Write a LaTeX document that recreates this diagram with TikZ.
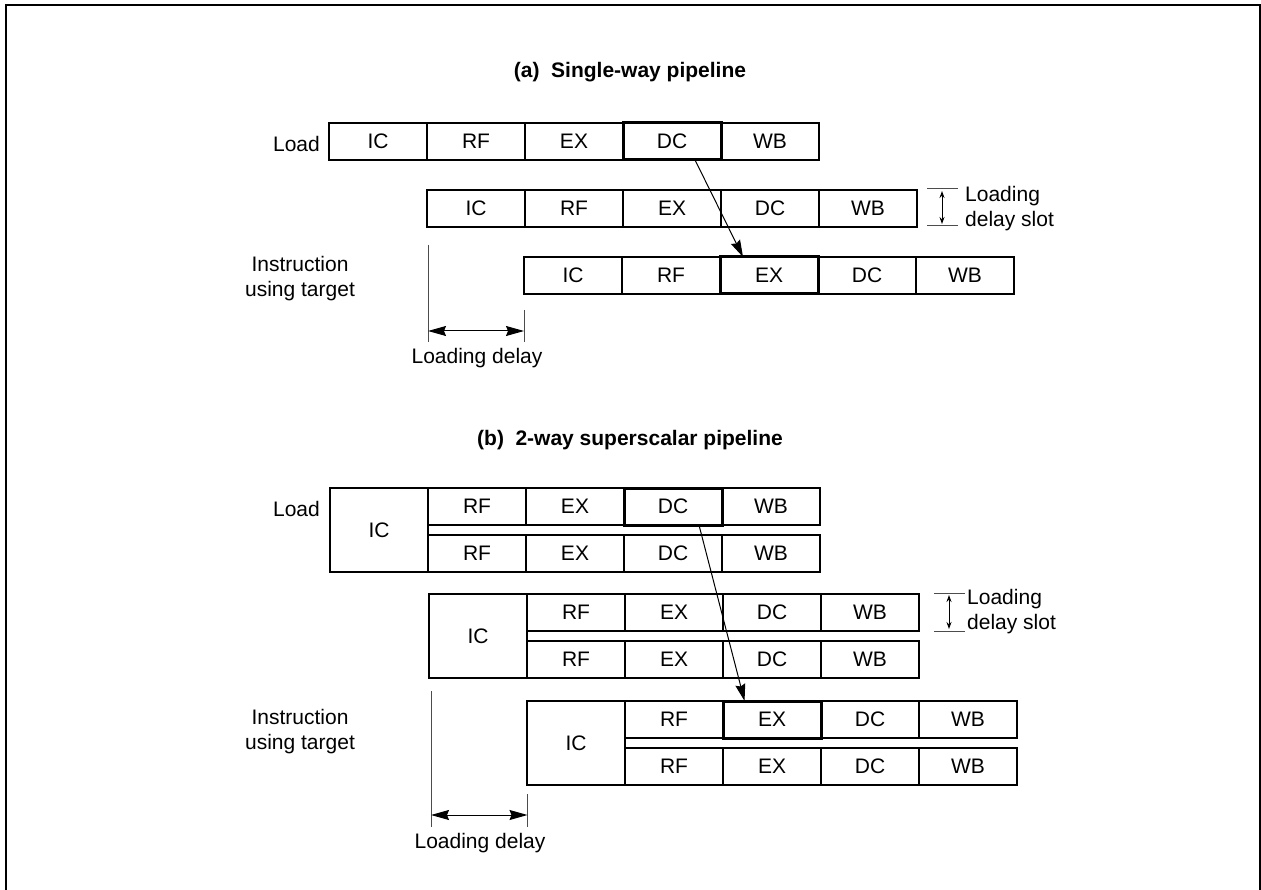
\documentclass[tikz,border=0pt]{standalone}
\usepackage{fontspec}
\setmainfont{Liberation Sans}
\usetikzlibrary{calc,arrows.meta}
\newcommand\lblfont{\fontsize{21}{25}\selectfont}
\newcommand\ttlfont{\fontsize{21}{25}\selectfont\bfseries}
\tikzset{
  cell/.style={draw, line width=1.2pt, minimum width=98pt, minimum height=37pt,
    inner sep=0pt, outer sep=0pt, anchor=north west, font=\lblfont},
  icbox/.style={cell, minimum height=84pt},
  plaincell/.style={},
  boldcell/.style={line width=3pt},
  lbl/.style={font=\lblfont, inner sep=0pt, align=center},
  ttl/.style={font=\ttlfont, inner sep=0pt},
  guide/.style={line width=1pt, black!70},
  bigtip/.style={-{Stealth[length=17pt,width=10pt,inset=2pt]}, line width=1pt},
  bothtip/.style={{Stealth[length=18pt,width=10pt,inset=2pt]}-{Stealth[length=18pt,width=10pt,inset=2pt]}, line width=1pt},
  smalltip/.style={{Stealth[length=7pt,width=5pt]}-{Stealth[length=7pt,width=5pt]}, line width=1pt},
}
\begin{document}
\begin{tikzpicture}[x=1pt,y=-1pt]
\useasboundingbox (0,0) rectangle (1261,890);
\begin{scope}
\clip (0,0) rectangle (1261,890);
\draw[line width=2pt] (5.5,5) rectangle (1259.5,900);
\end{scope}

% ---------- (a) single-way pipeline ----------
\node[ttl] (ttla) at (630,72) {(a)\hspace{0.55em}Single-way pipeline};

\foreach \t/\s [count=\i] in {IC/plaincell,RF/plaincell,EX/plaincell,DC/boldcell,WB/plaincell}
  \node[cell,\s] (a1c\i) at ({329+98*(\i-1)},123) {\t};
\foreach \t [count=\i] in {IC,RF,EX,DC,WB}
  \node[cell] (a2c\i) at ({427+98*(\i-1)},190) {\t};
\foreach \t/\s [count=\i] in {IC/plaincell,RF/plaincell,EX/boldcell,DC/plaincell,WB/plaincell}
  \node[cell,\s] (a3c\i) at ({524+98*(\i-1)},257) {\t};

\node[lbl, anchor=east] (loada) at (320,144) {Load};
\node[lbl] (insta) at (300,279) {Instruction\\using target};

% forwarding from the load's DC to the user's EX
\draw[bigtip] ($(a1c4.south west)!0.735!(a1c4.south east)$)
  -- ($(a3c3.north west)!0.235!(a3c3.north east)$);

% loading delay slot marker
\coordinate (sa1) at (927,189);
\coordinate (sa2) at (927,226);
\draw[guide] (sa1) -- ++(31,0);
\draw[guide] (sa2) -- ++(31,0);
\draw[smalltip] ($(sa1)+(15,2)$) -- ($(sa2)+(15,-2)$);
\node[lbl, anchor=west, align=left] (slota) at (965,209) {Loading\\delay slot};

% loading delay
\coordinate (da1) at (428,245);
\coordinate (da2) at (428,342);
\coordinate (da3) at (524,310);
\coordinate (da4) at (524,342);
\draw[guide] (da1) -- (da2);
\draw[guide] (da3) -- (da4);
\draw[bothtip] (428,331) -- (524,331);
\node[lbl] (dla) at (477,358) {Loading delay};

% ---------- (b) 2-way superscalar pipeline ----------
\node[ttl] (ttlb) at (630,440) {(b)\hspace{0.55em}2-way superscalar pipeline};

% load pair
\node[icbox] (b1ic) at (330,488) {IC};
\foreach \t/\s [count=\i] in {RF/plaincell,EX/plaincell,DC/boldcell,WB/plaincell}
  \node[cell,\s] (b1u\i) at ({428+98*(\i-1)},488) {\t};
\foreach \t [count=\i] in {RF,EX,DC,WB}
  \node[cell] (b1l\i) at ({428+98*(\i-1)},535) {\t};
% pair in the delay slot
\node[icbox] (b2ic) at (429,594) {IC};
\foreach \t [count=\i] in {RF,EX,DC,WB} {
  \node[cell] (b2u\i) at ({527+98*(\i-1)},594) {\t};
  \node[cell] (b2l\i) at ({527+98*(\i-1)},641) {\t};
}
% dependent pair
\node[icbox] (b3ic) at (527,701) {IC};
\foreach \t/\s [count=\i] in {RF/plaincell,EX/boldcell,DC/plaincell,WB/plaincell}
  \node[cell,\s] (b3u\i) at ({625+98*(\i-1)},701) {\t};
\foreach \t [count=\i] in {RF,EX,DC,WB}
  \node[cell] (b3l\i) at ({625+98*(\i-1)},748) {\t};

\node[lbl, anchor=east] (loadb) at (320,509) {Load};
\node[lbl] (instb) at (300,732) {Instruction\\using target};

\draw[bigtip] ($(b1u3.south west)!0.765!(b1u3.south east)$)
  -- ($(b3u2.north west)!0.22!(b3u2.north east)$);

% loading delay slot marker
\coordinate (sb1) at (934,593);
\coordinate (sb2) at (934,631);
\draw[guide] (sb1) -- ++(31,0);
\draw[guide] (sb2) -- ++(31,0);
\draw[smalltip] ($(sb1)+(15,2)$) -- ($(sb2)+(15,-2)$);
\node[lbl, anchor=west, align=left] (slotb) at (967,612) {Loading\\delay slot};

% loading delay
\coordinate (db1) at (431,691);
\coordinate (db2) at (431,827);
\coordinate (db3) at (527.5,794);
\coordinate (db4) at (527.5,827);
\draw[guide] (db1) -- (db2);
\draw[guide] (db3) -- (db4);
\draw[bothtip] (431,815) -- (527.5,815);
\node[lbl] (dlb) at (480,843) {Loading delay};
\end{tikzpicture}
\end{document}
